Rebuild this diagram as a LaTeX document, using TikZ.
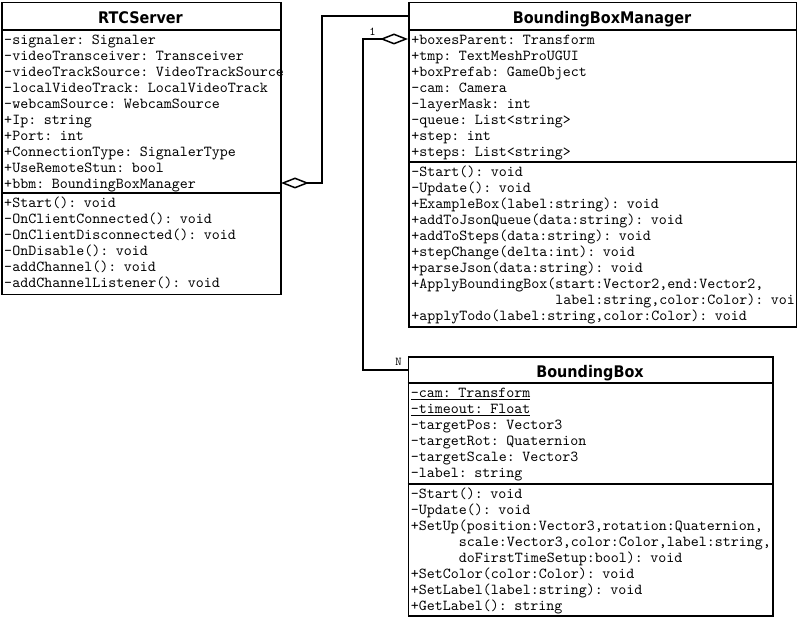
\documentclass[tikz,border=0pt]{standalone}
\usepackage{fontspec}
\newfontfamily\umlmono{lmmono10-regular.otf}
\newfontfamily\umlsans{DejaVu Sans Condensed}
\usetikzlibrary{arrows.meta}
\newlength\ulwd
\newcommand\staticattr[1]{\leavevmode\settowidth\ulwd{#1}\rlap{\rule[-3pt]{\ulwd}{1pt}}#1}

\begin{document}
\begin{tikzpicture}[x=1pt, y=-1pt, line width=1.5pt,
    classbox/.style={draw, anchor=north west, inner sep=0pt},
    classname/.style={anchor=base, font=\umlsans\bfseries\fontsize{16}{18}\selectfont},
    members/.style={anchor=north west, inner xsep=2.5pt, inner ysep=2.5pt, text width=420pt, align=left,
        font=\umlmono\fontsize{15.24}{16}\selectfont},
    mult/.style={inner sep=0pt, font=\umlmono\fontsize{12}{12}\selectfont},
    aggregation/.style={{Diamond[open, length=28pt, width=11pt]}-}]
    \useasboundingbox (0,0) rectangle (797,617);

    % RTCServer
    \node[classname] (rtc-name) at (140.5,23.5) {RTCServer};
    \node[members] (rtc-attr) at (1,30) {\strut-signaler: Signaler\\
        -videoTransceiver: Transceiver\\
        -videoTrackSource: VideoTrackSource\\
        -localVideoTrack: LocalVideoTrack\\
        -webcamSource: WebcamSource\\
        +Ip: string\\
        +Port: int\\
        +ConnectionType: SignalerType\\
        +UseRemoteStun: bool\\
        +bbm: BoundingBoxManager};
    \node[members] (rtc-ops) at (1,193) {\strut+Start(): void\\
        -OnClientConnected(): void\\
        -OnClientDisconnected(): void\\
        -OnDisable(): void\\
        -addChannel(): void\\
        -addChannelListener(): void};
    \node[classbox, minimum width=279pt, minimum height=292pt] (rtc) at (1,2) {};
    \draw (1,30) -- (280,30);
    \draw (1,193) -- (280,193);

    % BoundingBoxManager
    \node[classname] (bbm-name) at (602,23.5) {BoundingBoxManager};
    \node[members] (bbm-attr) at (408,30) {\strut+boxesParent: Transform\\
        +tmp: TextMeshProUGUI\\
        +boxPrefab: GameObject\\
        -cam: Camera\\
        -layerMask: int\\
        -queue: List<string>\\
        +step: int\\
        +steps: List<string>};
    \node[members] (bbm-ops) at (408,162) {\strut-Start(): void\\
        -Update(): void\\
        +ExampleBox(label:string): void\\
        +addToJsonQueue(data:string): void\\
        +addToSteps(data:string): void\\
        +stepChange(delta:int): void\\
        +parseJson(data:string): void\\
        +ApplyBoundingBox(start:Vector2,end:Vector2,\\
        \phantom{+ApplyBoundingBox(}label:string,color:Color): voi\\
        +applyTodo(label:string,color:Color): void};
    \node[classbox, minimum width=388pt, minimum height=324pt] (bbm) at (408,2) {};
    \draw (408,30) -- (796,30);
    \draw (408,162) -- (796,162);

    % BoundingBox
    \node[classname] (bb-name) at (590,377) {BoundingBox};
    \node[members] (bb-attr) at (407.5,383) {\strut\staticattr{-cam: Transform}\\
        \staticattr{-timeout: Float}\\
        -targetPos: Vector3\\
        -targetRot: Quaternion\\
        -targetScale: Vector3\\
        -label: string};
    \node[members] (bb-ops) at (407.5,484) {\strut-Start(): void\\
        -Update(): void\\
        +SetUp(position:Vector3,rotation:Quaternion,\\
        \phantom{+SetUp}scale:Vector3,color:Color,label:string,\\
        \phantom{+SetUp}doFirstTimeSetup:bool): void\\
        +SetColor(color:Color): void\\
        +SetLabel(label:string): void\\
        +GetLabel(): string};
    \node[classbox, minimum width=364.5pt, minimum height=259pt] (bb) at (407.5,356) {};
    \draw (407.5,383) -- (772,383);
    \draw (407.5,484) -- (772,484);

    % associations
    \coordinate (rtc-bbm) at (281,183);
    \coordinate (bbm-in) at (408,16);
    \coordinate (bbm-boxes) at (408,39);
    \coordinate (bb-in) at (407.5,370);
    \draw[aggregation] (rtc-bbm) -- (322,183) |- (bbm-in);
    \draw[aggregation] (bbm-boxes) -- (363,39) |- (bb-in);
    \node[mult] (mult-one) at (372.5,32) {1};
    \node[mult] (mult-n) at (398.5,362) {N};
\end{tikzpicture}
\end{document}
